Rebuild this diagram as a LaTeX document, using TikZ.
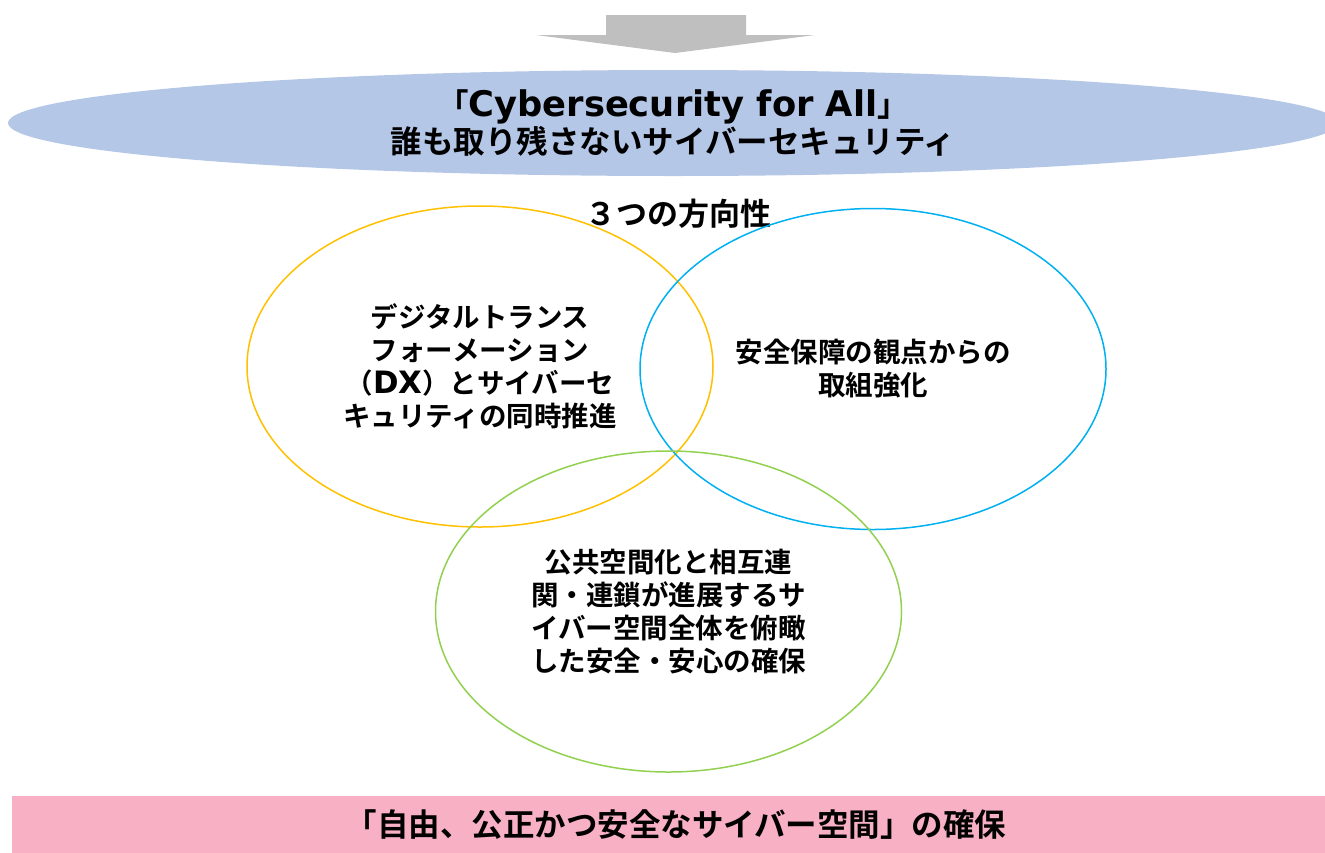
\documentclass[tikz,border=0pt]{standalone}
\usepackage{fontspec}
\setmainfont{Noto Sans CJK JP}[BoldFont={Noto Sans CJK JP Bold}]
\newfontfamily\latin{DejaVu Sans}[Scale=1.12]
\usetikzlibrary{shapes.geometric}
\definecolor{titleblue}{HTML}{B4C7E7}
\definecolor{goalpink}{HTML}{F8B0C5}
\definecolor{dxyellow}{HTML}{FFC000}
\definecolor{secblue}{HTML}{00B0F0}
\definecolor{spacegreen}{HTML}{92D050}
\definecolor{arrowgray}{HTML}{BFBFBF}
\begin{document}
\begin{tikzpicture}[x=1pt,y=-1pt,
		venn/.style={ellipse, draw, line width=1.5pt, inner sep=0pt, minimum width=466pt, minimum height=321pt, align=center, font=\bfseries\fontsize{27.5}{33}\selectfont},
		big/.style={inner sep=0pt, align=center, font=\bfseries\fontsize{31.5}{37}\selectfont}]
				\useasboundingbox (0,0) rectangle (1325,852);
				\fill[arrowgray] (606,15) -- (746,15) -- (746,35) -- (815,35) -- (675,53) -- (536,35) -- (606,35) -- cycle;
				\node[big, ellipse, fill=titleblue, minimum width=1330pt, minimum height=106pt] (vision) at (673,123) {「{\latin\bfseries Cybersecurity for All}」\\誰も取り残さないサイバーセキュリティ};
				\node[big, font=\bfseries\fontsize{31}{37}\selectfont] (three) at (678,214) {３つの方向性};
				\node[venn, draw=dxyellow] (dx) at (480,366.5) {デジタルトランス\\フォーメーション\\（{\latin\bfseries DX}）とサイバーセ\\キュリティの同時推進};
				\node[venn, draw=secblue] (security) at (873,369) {安全保障の観点からの\\取組強化};
				\node[venn, draw=spacegreen] (space) at (668.5,611.5) {公共空間化と相互連\\関・連鎖が進展するサ\\イバー空間全体を俯瞰\\した安全・安心の確保};
				\node[big, fill=goalpink, minimum width=1328pt, minimum height=57pt] (goal) at (676,824.5) {「自由、公正かつ安全なサイバー空間」の確保};
			\end{tikzpicture}
\end{document}
